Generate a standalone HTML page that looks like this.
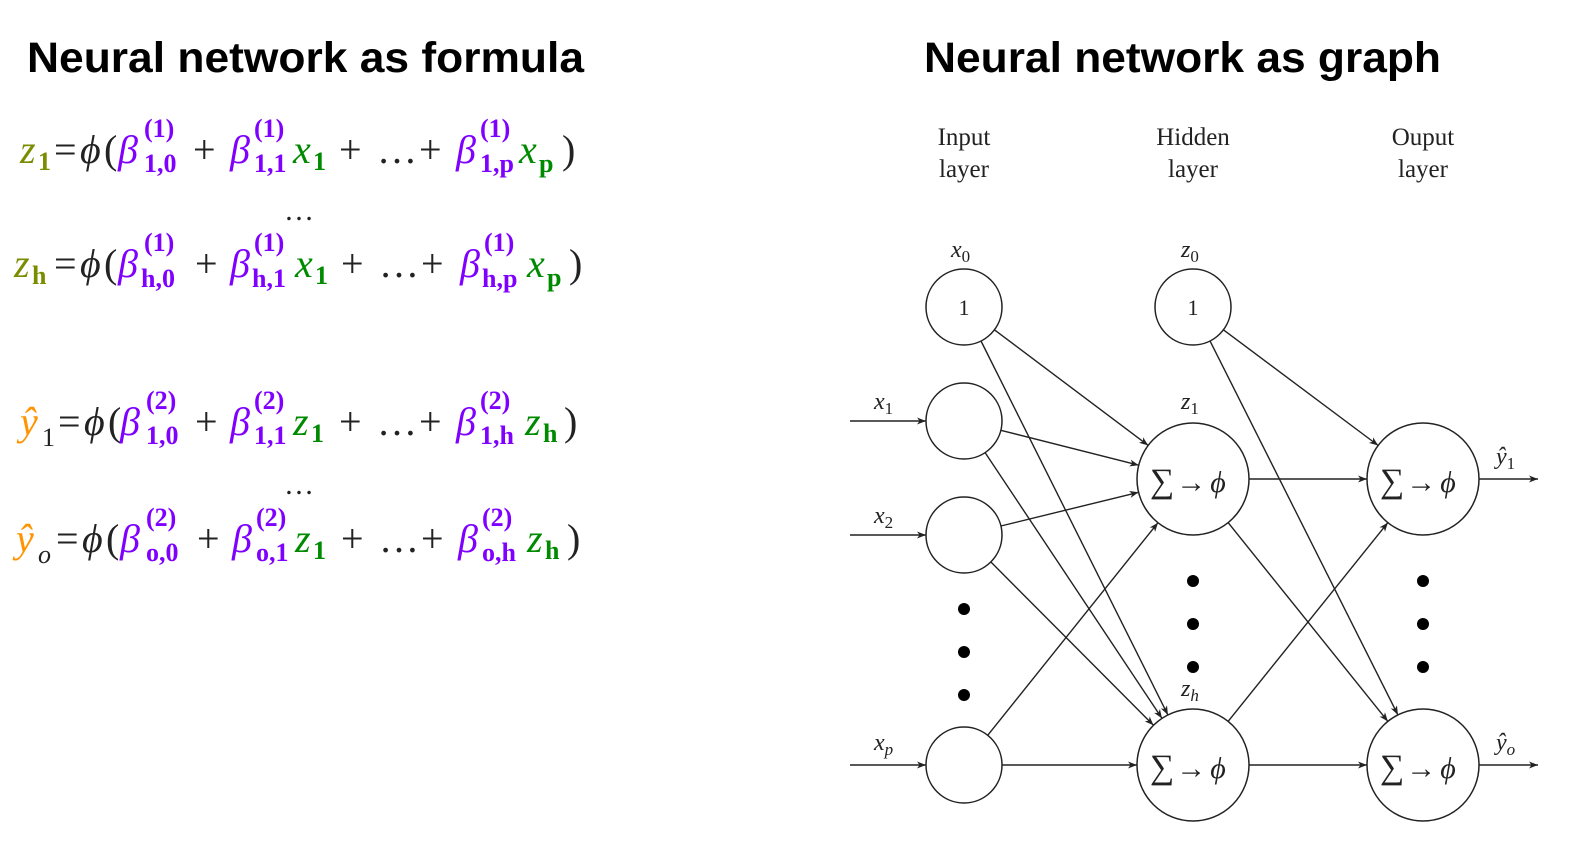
<!DOCTYPE html>
<html><head><meta charset="utf-8"><style>
html,body{margin:0;padding:0;background:#fff;}
svg{display:block;}
.t{font-family:"Liberation Sans",sans-serif;font-weight:bold;font-size:43px;}
.f{font-family:"Liberation Serif",serif;font-size:40px;}
.i{font-style:italic;}
.s{font-size:26px;font-weight:bold;}
.ol{fill:#7b8c00;} .pu{fill:#8000ff;} .gr{fill:#008a00;} .or{fill:#ff9400;} .bk{fill:#222;}
.g{font-family:"Liberation Serif",serif;fill:#222;}
</style></head><body>
<svg width="1576" height="854" viewBox="0 0 1576 854" xmlns="http://www.w3.org/2000/svg">
<defs><marker id="a" markerWidth="10" markerHeight="8" refX="9" refY="4" orient="auto" markerUnits="userSpaceOnUse"><path d="M0,0.5 L9,4 L0,7.5 L2.5,4 Z" fill="#222"/></marker></defs>
<text class="t" x="27" y="72" textLength="557" lengthAdjust="spacingAndGlyphs">Neural network as formula</text>
<text class="t" x="924" y="72" textLength="517" lengthAdjust="spacingAndGlyphs">Neural network as graph</text>

<g class="f">
<text class="i ol" x="20" y="163">z</text><text class="s ol" x="38" y="170">1</text>
<text class="bk" x="54" y="163">=</text><text class="bk i" x="80" y="163">ϕ</text><text class="bk" x="104" y="163">(</text>
<text class="pu i" x="118" y="163">β</text><text class="pu s" x="144" y="137">(1)</text><text class="pu s" x="144" y="172">1,0</text>
<text class="bk" x="193" y="163">+</text>
<text class="pu i" x="230" y="163">β</text><text class="pu s" x="254" y="137">(1)</text><text class="pu s" x="254" y="172">1,1</text>
<text class="gr i" x="293" y="163">x</text><text class="gr s" x="313" y="170">1</text>
<text class="bk" x="339" y="163">+</text><text class="bk" x="377" y="163">…</text><text class="bk" x="419" y="163">+</text>
<text class="pu i" x="456" y="163">β</text><text class="pu s" x="480" y="137">(1)</text><text class="pu s" x="480" y="172">1,p</text>
<text class="gr i" x="519" y="163">x</text><text class="gr s" x="539" y="172">p</text>
<text class="bk" x="562" y="163">)</text>
<text class="bk" x="284" y="220" style="font-size:30px">…</text>

<text class="i ol" x="14" y="277">z</text><text class="s ol" x="32" y="284">h</text>
<text class="bk" x="54" y="277">=</text><text class="bk i" x="80" y="277">ϕ</text><text class="bk" x="104" y="277">(</text>
<text class="pu i" x="118" y="277">β</text><text class="pu s" x="144" y="251">(1)</text><text class="pu s" x="141" y="287">h,0</text>
<text class="bk" x="195" y="277">+</text>
<text class="pu i" x="230" y="277">β</text><text class="pu s" x="254" y="251">(1)</text><text class="pu s" x="252" y="287">h,1</text>
<text class="gr i" x="295" y="277">x</text><text class="gr s" x="315" y="284">1</text>
<text class="bk" x="341" y="277">+</text><text class="bk" x="379" y="277">…</text><text class="bk" x="421" y="277">+</text>
<text class="pu i" x="460" y="277">β</text><text class="pu s" x="484" y="251">(1)</text><text class="pu s" x="482" y="287">h,p</text>
<text class="gr i" x="527" y="277">x</text><text class="gr s" x="547" y="286">p</text>
<text class="bk" x="569" y="277">)</text>

<text class="or i" x="20" y="435">ŷ</text><text class="bk" x="42" y="446" style="font-size:26px">1</text>
<text class="bk" x="58" y="435">=</text><text class="bk i" x="84" y="435">ϕ</text><text class="bk" x="108" y="435">(</text>
<text class="pu i" x="120" y="435">β</text><text class="pu s" x="146" y="409">(2)</text><text class="pu s" x="146" y="444">1,0</text>
<text class="bk" x="195" y="435">+</text>
<text class="pu i" x="230" y="435">β</text><text class="pu s" x="254" y="409">(2)</text><text class="pu s" x="254" y="444">1,1</text>
<text class="gr i" x="293" y="435">z</text><text class="gr s" x="311" y="442">1</text>
<text class="bk" x="339" y="435">+</text><text class="bk" x="377" y="435">…</text><text class="bk" x="419" y="435">+</text>
<text class="pu i" x="456" y="435">β</text><text class="pu s" x="480" y="409">(2)</text><text class="pu s" x="480" y="444">1,h</text>
<text class="gr i" x="525" y="435">z</text><text class="gr s" x="543" y="442">h</text>
<text class="bk" x="564" y="435">)</text>
<text class="bk" x="284" y="494" style="font-size:30px">…</text>

<text class="or i" x="16" y="552">ŷ</text><text class="bk i" x="38" y="563" style="font-size:26px">o</text>
<text class="bk" x="56" y="552">=</text><text class="bk i" x="82" y="552">ϕ</text><text class="bk" x="106" y="552">(</text>
<text class="pu i" x="120" y="552">β</text><text class="pu s" x="146" y="526">(2)</text><text class="pu s" x="146" y="561">o,0</text>
<text class="bk" x="197" y="552">+</text>
<text class="pu i" x="232" y="552">β</text><text class="pu s" x="256" y="526">(2)</text><text class="pu s" x="256" y="561">o,1</text>
<text class="gr i" x="295" y="552">z</text><text class="gr s" x="313" y="559">1</text>
<text class="bk" x="341" y="552">+</text><text class="bk" x="379" y="552">…</text><text class="bk" x="421" y="552">+</text>
<text class="pu i" x="458" y="552">β</text><text class="pu s" x="482" y="526">(2)</text><text class="pu s" x="482" y="561">o,h</text>
<text class="gr i" x="527" y="552">z</text><text class="gr s" x="545" y="559">h</text>
<text class="bk" x="567" y="552">)</text>
</g>

<g transform="translate(3,2)">
<g class="g" font-size="25" text-anchor="middle">
<text x="961" y="143">Input</text><text x="961" y="175">layer</text>
<text x="1190" y="143">Hidden</text><text x="1190" y="175">layer</text>
<text x="1420" y="143">Ouput</text><text x="1420" y="175">layer</text>
</g>
<g class="g" font-style="italic" font-size="24">
<text x="948" y="255">x<tspan font-size="17" font-style="normal" dy="5">0</tspan></text>
<text x="1178" y="255">z<tspan font-size="17" font-style="normal" dy="5">0</tspan></text>
<text x="871" y="407">x<tspan font-size="17" font-style="normal" dy="5">1</tspan></text>
<text x="871" y="521">x<tspan font-size="17" font-style="normal" dy="5">2</tspan></text>
<text x="871" y="748">x<tspan font-size="17" dy="5">p</tspan></text>
<text x="1178" y="407">z<tspan font-size="17" font-style="normal" dy="5">1</tspan></text>
<text x="1178" y="694">z<tspan font-size="17" dy="5">h</tspan></text>
<text x="1493" y="462">ŷ<tspan font-size="17" font-style="normal" dy="5">1</tspan></text>
<text x="1493" y="748">ŷ<tspan font-size="17" dy="5">o</tspan></text>
</g>
<g fill="none" stroke="#222" stroke-width="1.5">
<circle cx="961" cy="305" r="38"/><circle cx="961" cy="419" r="38"/><circle cx="961" cy="533" r="38"/><circle cx="961" cy="763" r="38"/>
<circle cx="1190" cy="305" r="38"/><circle cx="1190" cy="477" r="56"/><circle cx="1190" cy="763" r="56"/>
<circle cx="1420" cy="477" r="56"/><circle cx="1420" cy="763" r="56"/>
</g>
<g stroke="#222" stroke-width="1.4" marker-end="url(#a)">
<line x1="847" y1="419" x2="923" y2="419"/><line x1="847" y1="533" x2="923" y2="533"/><line x1="847" y1="763" x2="923" y2="763"/>
<line x1="991.4" y1="327.8" x2="1145.2" y2="443.4"/>
<line x1="978" y1="339" x2="1164.9" y2="712.9"/>
<line x1="997.8" y1="428.3" x2="1135.7" y2="463.2"/>
<line x1="982.1" y1="450.6" x2="1159" y2="716.4"/>
<line x1="997.9" y1="524" x2="1135.6" y2="490.3"/>
<line x1="987.8" y1="559.9" x2="1150.5" y2="723.3"/>
<line x1="984.7" y1="733.3" x2="1155" y2="520.7"/>
<line x1="999" y1="763" x2="1134" y2="763"/>
<line x1="1220.4" y1="327.8" x2="1375.2" y2="443.5"/>
<line x1="1207" y1="338.9" x2="1394.9" y2="712.9"/>
<line x1="1246" y1="477" x2="1364" y2="477"/>
<line x1="1225.1" y1="520.6" x2="1384.9" y2="719.4"/>
<line x1="1225.1" y1="719.4" x2="1384.9" y2="520.6"/>
<line x1="1246" y1="763" x2="1364" y2="763"/>
<line x1="1476" y1="477" x2="1535" y2="477"/>
<line x1="1476" y1="763" x2="1535" y2="763"/>
</g>
<g class="g" font-size="22" text-anchor="middle">
<text x="961" y="313">1</text><text x="1190" y="313">1</text>
</g>
<g class="g" font-size="34">
<text x="1147" y="490">∑<tspan font-size="30" dx="2">→</tspan><tspan font-style="italic" font-size="30" dx="4">ϕ</tspan></text>
<text x="1147" y="776">∑<tspan font-size="30" dx="2">→</tspan><tspan font-style="italic" font-size="30" dx="4">ϕ</tspan></text>
<text x="1377" y="490">∑<tspan font-size="30" dx="2">→</tspan><tspan font-style="italic" font-size="30" dx="4">ϕ</tspan></text>
<text x="1377" y="776">∑<tspan font-size="30" dx="2">→</tspan><tspan font-style="italic" font-size="30" dx="4">ϕ</tspan></text>
</g>
<g fill="#000">
<circle cx="961" cy="607" r="6"/><circle cx="961" cy="650" r="6"/><circle cx="961" cy="693" r="6"/>
<circle cx="1190" cy="579" r="6"/><circle cx="1190" cy="622" r="6"/><circle cx="1190" cy="665" r="6"/>
<circle cx="1420" cy="579" r="6"/><circle cx="1420" cy="622" r="6"/><circle cx="1420" cy="665" r="6"/>
</g>
</g>
</svg>
</body></html>
